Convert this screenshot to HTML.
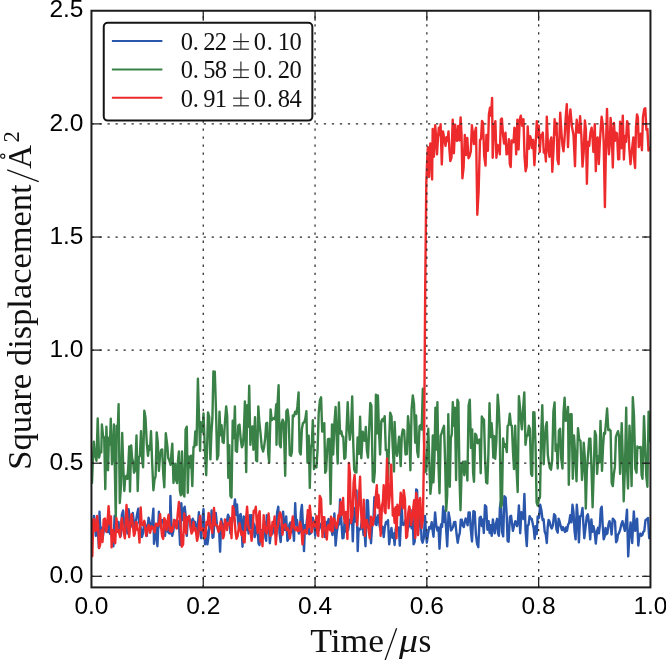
<!DOCTYPE html>
<html><head><meta charset="utf-8"><style>html,body{margin:0;padding:0;background:#fff;overflow:hidden}svg{display:block;will-change:transform}</style></head>
<body><svg width="666" height="660" viewBox="0 0 666 660">
<defs><clipPath id="ax"><rect x="91.45" y="10.75" width="559.0" height="576.65"/></clipPath></defs><rect width="666" height="660" fill="#fff"/>
<g clip-path="url(#ax)"><polyline points="92.0,528.0 93.0,524.3 94.0,515.9 94.9,521.3 95.8,535.9 97.3,520.0 98.9,548.0 99.5,511.7 100.5,533.4 101.5,527.6 102.5,539.0 103.7,530.8 104.9,519.5 106.0,529.8 107.0,532.0 108.0,532.0 109.0,522.0 110.0,533.8 111.0,530.0 112.2,538.1 113.4,546.2 114.6,515.9 115.5,528.5 116.5,532.0 117.5,524.9 118.5,522.0 119.6,530.1 120.7,535.9 121.9,514.7 123.1,510.5 124.2,523.6 125.2,528.0 126.3,522.1 127.4,533.5 128.6,509.2 129.6,516.8 130.5,527.0 131.7,524.0 132.8,512.9 133.9,523.0 135.0,530.0 136.1,520.1 137.2,513.8 138.3,508.6 139.2,522.4 140.0,525.0 141.0,529.0 142.0,537.0 143.2,532.3 144.3,522.0 145.6,525.4 146.8,536.0 147.7,527.3 148.6,517.7 149.8,523.2 151.0,529.0 152.2,521.7 153.4,508.6 154.0,543.8 154.9,536.0 155.8,525.0 157.4,546.2 158.9,511.7 159.9,520.5 161.0,528.0 162.0,520.2 163.0,520.0 164.0,520.9 165.0,536.0 166.0,525.2 167.0,522.0 167.9,531.8 168.9,532.9 169.8,533.5 170.4,495.9 171.3,524.8 172.2,535.9 173.3,531.4 174.5,520.0 175.8,521.4 177.0,528.0 178.0,521.2 179.1,526.3 180.1,545.0 181.3,503.2 182.5,520.0 183.7,509.2 184.7,506.7 185.8,516.8 186.8,535.9 187.9,517.3 189.0,520.0 190.2,519.5 191.5,530.0 192.8,518.8 194.0,522.0 195.2,521.9 196.5,532.0 197.7,527.2 198.9,512.3 200.1,530.7 201.3,538.3 202.4,519.7 203.5,509.2 205.0,544.4 206.2,530.0 207.4,544.4 208.4,537.3 209.5,522.0 210.6,528.0 211.6,510.5 212.5,537.8 213.4,537.1 214.6,517.8 215.8,512.9 216.9,524.9 218.0,530.0 219.1,530.8 220.1,551.7 221.3,519.0 222.4,525.0 223.5,532.0 224.5,523.7 225.5,524.0 226.8,521.6 228.0,514.7 229.2,517.6 230.4,533.5 231.4,524.6 232.5,520.0 233.8,508.6 235.0,499.5 236.0,515.0 237.0,504.4 238.0,520.9 239.0,528.0 239.8,515.4 240.7,514.0 241.6,525.1 242.5,546.8 243.7,516.5 244.8,518.3 246.0,530.0 247.3,521.6 248.6,533.5 249.8,515.3 250.7,527.9 251.6,515.3 252.6,532.0 253.6,523.3 254.6,537.1 255.6,533.3 256.5,525.0 257.5,527.4 258.5,543.4 259.5,545.0 261.0,530.0 262.5,535.0 263.5,524.6 264.5,522.0 265.4,537.4 266.2,540.8 266.8,515.3 267.8,517.3 268.8,524.3 269.8,543.2 271.0,531.8 272.2,534.0 273.4,523.2 274.7,532.7 276.0,535.0 277.1,512.6 278.3,506.8 279.5,532.8 280.7,542.0 281.9,523.1 283.1,511.7 284.1,524.2 285.0,530.0 286.2,516.5 287.4,540.8 288.4,539.2 289.4,524.6 290.4,522.6 292.0,532.0 293.0,527.2 294.0,540.8 295.2,503.2 296.1,524.6 297.0,520.0 297.9,528.7 298.9,533.5 299.9,531.7 300.9,512.3 301.9,505.0 302.9,524.0 304.0,551.1 305.0,525.2 306.0,528.0 307.0,519.3 308.0,514.1 309.2,534.3 310.4,533.5 311.6,531.9 312.8,517.7 314.0,522.6 315.2,535.9 316.5,517.7 317.8,527.9 319.0,530.0 320.0,526.9 321.0,524.0 322.0,522.7 323.0,532.0 324.0,530.4 325.0,537.1 325.9,531.4 326.8,522.0 327.7,524.4 328.6,519.0 329.6,523.0 330.5,530.0 331.5,529.9 332.5,535.0 333.4,529.6 334.4,513.5 335.6,545.6 336.8,532.2 338.0,525.0 339.1,524.5 340.1,499.5 341.3,520.0 342.5,538.3 343.5,537.9 344.5,522.0 345.8,531.5 347.0,530.0 348.2,530.1 349.5,520.0 350.6,523.2 351.6,505.6 352.8,541.4 354.0,508.2 355.3,521.6 356.5,490.5 357.7,551.1 358.6,528.5 359.5,530.0 360.8,528.7 362.0,520.0 363.5,535.0 364.5,531.5 365.5,546.2 366.8,500.2 367.9,500.5 369.0,525.0 370.0,524.9 371.0,543.2 372.5,520.0 373.4,521.0 374.4,497.1 375.4,524.3 376.5,525.0 377.5,517.3 378.5,515.0 379.5,525.3 380.5,530.0 381.6,526.0 382.6,527.1 383.7,537.1 384.9,526.7 386.0,522.0 387.0,523.4 388.0,520.2 389.2,544.4 390.4,534.0 391.5,528.0 392.5,537.9 393.6,533.4 394.6,545.0 395.6,529.6 396.5,525.0 397.8,530.0 398.8,527.5 399.8,545.6 400.6,528.3 401.5,498.3 402.5,524.3 403.5,525.0 404.5,523.8 405.5,520.0 407.0,532.0 408.6,525.8 409.6,526.3 410.5,510.0 411.6,528.4 412.6,515.6 413.6,544.4 414.7,541.5 416.2,489.4 417.1,490.2 418.0,535.0 419.5,513.6 420.5,514.1 421.6,539.7 422.6,542.7 423.8,538.0 425.0,516.0 425.9,531.7 426.8,542.7 428.1,533.3 429.3,527.0 430.5,528.6 431.7,522.1 432.6,530.4 433.5,536.7 435.1,512.4 436.3,525.8 437.5,530.6 438.5,527.5 439.5,548.8 441.0,524.5 442.1,526.9 443.2,506.4 444.1,522.0 445.0,511.0 446.1,528.3 447.2,546.4 448.6,512.4 449.8,519.3 451.0,530.6 452.0,529.1 453.1,526.8 454.1,522.1 455.3,521.9 456.5,533.5 457.7,542.7 458.7,536.8 459.8,533.0 460.8,519.7 461.8,519.7 462.8,525.8 463.8,527.0 464.7,522.4 465.6,518.5 466.6,520.3 467.6,525.3 468.6,512.4 469.7,512.4 470.9,530.7 472.0,541.5 473.4,511.2 474.7,511.8 475.9,534.5 477.1,543.9 478.3,547.2 479.6,517.8 480.8,516.7 481.8,526.0 482.8,519.7 483.8,533.0 485.0,505.1 486.2,506.7 487.4,529.7 488.6,521.2 489.6,533.0 490.7,525.1 491.7,535.8 492.9,519.4 493.8,526.2 494.7,533.3 495.9,523.9 497.1,518.8 498.0,533.3 498.9,535.8 499.9,507.5 500.8,501.8 502.0,531.6 503.2,536.4 504.4,496.3 505.6,497.6 506.6,513.4 507.6,540.9 508.6,541.8 509.9,516.7 511.1,515.8 512.0,523.3 512.9,530.9 514.1,526.0 515.3,521.2 516.2,522.6 517.1,526.1 518.0,520.1 518.9,505.5 520.2,533.3 521.4,512.1 522.4,517.3 523.4,518.9 524.4,493.9 525.6,531.1 526.8,546.1 527.7,525.3 528.6,524.8 529.6,516.1 530.7,518.4 531.7,518.8 532.7,523.4 533.7,528.4 534.7,538.8 535.7,526.1 536.7,534.1 537.7,516.4 539.0,517.9 540.2,504.8 541.4,510.3 542.6,520.0 543.6,519.3 544.7,531.6 545.8,534.5 546.8,543.0 547.7,527.0 548.6,520.0 549.6,521.6 550.7,526.4 551.7,528.5 552.9,525.3 554.1,514.3 555.3,515.8 556.5,529.5 557.7,532.7 558.6,518.6 559.5,521.2 560.8,526.5 562.0,530.0 563.0,527.1 564.0,529.7 565.0,532.0 566.0,527.4 567.0,530.9 568.0,525.0 569.1,522.9 570.2,515.3 571.4,522.3 572.5,504.8 573.5,512.0 574.6,531.6 575.6,539.4 576.8,504.8 577.8,517.2 578.9,542.4 580.1,516.4 581.3,515.7 582.5,507.9 583.4,524.3 584.3,538.2 585.5,528.0 586.8,516.4 587.9,514.3 589.1,524.1 590.2,539.4 591.4,519.4 592.4,531.9 593.4,526.1 594.6,531.6 595.8,543.6 597.1,530.9 598.0,527.8 598.9,533.3 599.8,526.0 600.8,508.9 601.7,506.7 602.7,525.4 603.7,539.4 604.6,536.6 605.5,528.0 606.5,534.3 607.4,533.3 608.5,524.4 609.5,521.2 610.5,524.7 611.6,534.5 612.8,518.6 614.0,520.0 615.0,521.4 616.1,542.2 617.1,540.6 618.0,534.4 618.9,533.3 620.1,529.9 621.3,524.5 622.5,521.2 623.7,526.1 624.9,530.9 626.0,521.0 627.0,509.7 628.2,556.4 629.4,535.8 630.6,522.4 632.2,543.0 633.8,511.5 635.2,530.9 636.2,523.4 637.1,518.8 638.3,545.5 639.3,536.2 640.3,533.6 641.3,535.8 642.3,535.1 643.3,531.9 644.3,530.9 645.5,520.1 646.8,519.4 648.0,518.0 649.2,538.2 650.4,530.0" fill="none" stroke="#2a57ac" stroke-width="2.4" stroke-linejoin="round" stroke-linecap="round"/><polyline points="92.0,483.0 92.9,460.0 93.8,441.7 94.9,454.4 96.5,460.8 97.7,418.5 99.1,457.6 100.2,451.6 101.3,452.3 101.9,424.5 103.0,435.7 104.2,437.9 105.3,489.1 106.4,426.7 108.0,470.3 108.9,437.6 109.9,444.6 110.8,418.8 112.0,464.2 113.0,453.7 114.0,424.5 114.9,472.5 115.8,518.8 116.7,425.9 117.7,431.9 118.6,404.3 119.8,503.0 121.0,485.5 122.2,433.0 123.2,465.3 124.3,491.0 125.3,477.0 126.4,475.8 127.4,478.8 128.3,466.6 129.2,446.4 130.0,491.5 131.2,445.4 132.1,458.1 133.1,461.7 134.0,472.7 135.2,470.1 136.5,435.5 137.7,491.0 138.8,457.5 139.9,455.5 141.0,431.2 142.1,458.7 143.1,467.3 144.3,410.6 145.5,417.8 146.8,443.6 148.0,455.8 149.0,445.9 150.0,449.7 151.0,431.2 152.2,463.8 153.4,490.3 154.5,479.7 155.6,476.4 156.7,432.4 157.8,442.4 158.9,471.0 160.0,456.1 161.1,450.0 162.2,449.4 163.2,473.3 164.3,487.3 165.8,433.3 167.4,446.7 168.2,458.0 169.3,460.2 170.5,464.8 171.4,453.6 172.3,443.6 173.5,483.0 174.4,472.4 175.3,463.6 176.2,480.4 177.1,483.0 178.0,460.4 178.9,451.5 179.9,490.8 180.8,495.2 182.0,451.5 183.2,494.0 184.4,496.4 185.6,429.5 186.8,426.7 187.8,492.7 188.8,456.5 189.8,467.3 191.1,455.6 192.3,486.1 193.5,446.7 194.4,446.8 195.3,431.5 196.5,445.0 197.9,378.7 199.0,416.3 200.1,450.9 200.7,422.1 201.6,431.9 202.6,431.4 203.5,413.4 204.8,447.7 206.2,475.2 207.1,447.6 208.0,412.4 209.2,416.8 210.4,459.4 211.4,433.3 212.4,418.2 213.4,371.5 214.8,371.7 216.1,413.6 217.1,459.4 218.3,455.3 219.5,411.8 220.6,435.3 221.6,425.3 222.6,441.9 223.7,443.0 224.9,422.7 226.2,406.4 227.2,416.0 228.3,477.7 229.3,445.3 230.4,495.8 231.5,497.6 232.7,420.8 233.8,438.2 234.9,406.4 235.8,450.9 237.0,451.8 238.3,425.7 239.5,424.5 240.7,439.1 241.9,447.3 242.9,444.9 243.9,430.4 244.9,401.5 246.2,472.1 247.2,405.2 248.2,426.8 249.2,385.8 250.4,444.8 251.6,426.9 252.8,426.4 253.4,449.7 255.0,417.3 256.1,460.4 257.1,461.2 258.3,406.4 259.4,423.0 260.5,433.0 261.8,447.3 263.1,451.5 264.1,446.8 265.2,438.2 266.2,423.3 267.2,422.8 268.2,453.3 269.2,462.4 270.6,409.4 271.7,420.2 272.9,419.1 274.0,417.9 275.1,419.3 276.2,404.5 276.5,444.8 277.6,403.0 278.6,385.2 279.6,444.4 280.7,447.3 281.7,423.0 282.7,419.7 283.7,422.1 285.2,475.8 286.4,411.2 287.5,409.5 288.6,417.9 289.8,455.0 291.0,455.8 291.9,452.0 292.8,415.5 294.0,416.2 295.1,411.8 296.3,414.0 297.4,406.4 298.6,392.4 299.6,451.9 300.7,454.5 301.9,428.8 303.0,423.1 304.1,422.5 305.3,419.0 306.4,411.2 307.5,462.6 308.7,435.6 309.8,487.9 310.8,447.6 311.8,444.2 312.8,420.3 314.0,469.1 315.2,465.8 316.4,467.4 317.6,449.1 318.7,413.2 319.9,400.4 321.1,397.3 322.2,431.6 323.2,430.6 324.3,423.3 325.2,472.7 326.1,470.9 327.1,451.2 328.0,439.1 329.3,438.8 330.6,504.0 332.0,424.5 333.2,454.5 334.4,423.3 335.6,407.0 336.6,436.3 337.7,463.6 338.9,402.5 340.1,433.5 341.3,431.2 342.3,436.3 343.3,436.7 344.3,458.8 345.4,457.7 346.6,428.6 347.7,402.1 348.8,427.7 349.8,439.7 351.0,428.7 352.2,396.4 353.2,441.5 354.2,469.7 355.2,472.1 356.4,472.6 357.6,437.5 358.9,454.0 360.1,416.7 361.3,458.2 362.8,431.8 363.8,440.0 364.8,440.7 365.8,427.0 366.9,450.4 368.0,457.6 369.1,431.2 370.3,403.0 371.4,405.4 372.8,481.2 373.8,482.3 374.8,471.8 375.9,394.7 376.9,433.5 377.9,395.5 379.0,431.5 380.1,454.5 381.3,421.3 382.5,419.1 383.6,421.2 384.7,416.1 385.8,450.1 386.9,449.9 388.0,480.0 389.1,441.7 390.2,412.7 391.5,416.3 392.7,446.5 394.0,471.5 394.6,421.9 395.8,448.0 397.0,455.8 398.1,447.1 399.1,436.7 400.7,466.1 401.8,435.5 402.8,429.4 404.1,430.2 405.5,454.5 406.8,454.2 408.0,416.3 409.2,429.5 410.4,470.3 411.6,408.8 412.8,395.5 414.0,403.9 415.2,442.7 416.1,415.5 417.2,451.3 418.3,457.0 419.5,426.4 420.6,425.1 421.7,429.5 422.8,388.8 423.9,437.1 425.1,472.1 426.2,471.5 427.2,452.6 428.3,428.8 429.4,464.4 430.4,493.9 431.6,481.1 432.8,435.5 433.4,482.4 434.4,461.2 435.4,407.8 436.4,449.6 437.4,402.1 438.4,462.4 439.5,493.3 440.7,435.7 441.9,432.4 442.9,428.8 444.0,425.8 445.1,460.4 446.2,510.9 447.2,494.9 448.3,414.2 449.8,486.7 450.8,438.2 451.8,434.1 452.8,402.1 453.9,425.7 454.9,407.6 456.1,480.0 457.4,399.7 458.4,402.1 459.5,477.3 460.5,510.3 461.8,464.8 463.0,461.7 464.3,475.2 465.3,461.4 466.4,463.5 467.4,480.6 468.6,405.4 469.8,399.7 471.0,447.9 472.2,429.4 473.1,472.7 474.0,481.8 475.2,433.6 476.3,435.1 477.4,443.2 478.5,440.3 479.6,439.4 480.7,473.3 481.8,416.5 482.9,418.5 484.0,419.7 485.1,459.4 486.2,482.4 487.3,483.4 488.4,453.9 489.5,403.3 490.6,437.1 491.6,423.3 492.5,436.3 493.3,457.6 494.2,436.3 495.2,458.8 496.4,440.4 497.7,394.8 498.7,407.4 499.7,429.4 500.8,507.2 501.9,504.8 503.1,438.5 504.3,446.9 505.6,444.2 506.8,452.1 507.6,425.8 508.7,424.8 509.8,413.6 510.9,425.0 511.9,425.9 513.0,452.1 514.0,469.1 515.2,425.8 516.5,468.6 517.7,492.1 518.9,396.1 519.9,406.6 520.9,419.7 521.9,429.4 523.1,408.8 524.3,392.4 525.5,444.8 526.6,435.6 527.7,435.7 528.8,425.8 529.9,429.2 531.1,473.9 532.2,475.8 533.3,412.3 534.4,412.4 535.5,444.0 536.6,502.3 537.7,505.5 538.9,499.6 540.0,497.0 541.1,436.4 542.3,405.2 543.7,464.2 544.7,441.5 545.8,426.6 546.8,422.1 547.8,454.7 548.8,462.0 549.8,467.9 551.0,469.7 552.2,460.0 553.4,411.3 554.6,402.5 555.6,450.9 556.7,444.6 557.7,468.5 558.9,430.7 560.1,428.8 561.3,459.2 562.5,468.5 563.5,413.1 564.6,397.6 565.7,420.9 566.9,418.4 568.0,407.0 568.8,484.8 570.4,414.2 571.6,414.2 572.8,478.8 574.0,435.5 575.2,454.7 576.5,481.2 578.0,428.2 579.2,439.3 580.5,440.9 582.0,480.0 582.9,468.7 583.7,442.7 584.8,456.8 585.8,508.5 586.9,469.3 588.1,454.4 589.2,438.6 590.4,438.8 591.5,468.4 592.6,507.3 593.8,469.1 594.9,431.2 596.0,435.3 597.1,473.9 598.2,456.2 599.4,462.6 600.5,420.9 602.0,470.9 603.0,447.3 604.0,433.0 605.0,433.7 606.1,421.3 607.1,408.5 608.3,430.1 609.5,429.4 610.6,430.8 611.7,482.8 612.8,486.1 613.8,474.3 614.9,466.9 615.9,436.9 617.0,433.7 618.0,431.2 619.0,435.9 620.1,473.9 621.7,423.3 622.7,455.9 623.7,501.2 625.0,465.4 626.2,407.8 627.1,468.8 628.0,488.5 629.5,425.8 630.5,448.5 631.6,486.1 632.8,397.3 634.0,415.9 635.3,468.7 636.5,472.7 637.4,446.5 638.3,448.0 639.5,447.2 640.7,447.0 641.6,474.9 642.5,478.8 644.0,416.1 645.1,444.9 646.3,476.3 647.4,486.7 648.6,411.8 649.5,441.2 650.4,440.0" fill="none" stroke="#3a8147" stroke-width="2.4" stroke-linejoin="round" stroke-linecap="round"/><polyline points="92.3,556.0 93.2,519.9 94.0,519.0 95.2,531.0 96.2,530.3 97.1,515.9 98.1,525.3 99.1,548.1 100.1,545.0 101.5,530.0 102.5,542.0 103.7,519.5 105.0,518.6 106.2,531.7 107.4,523.6 108.6,506.2 109.8,524.2 111.0,516.5 111.6,547.4 113.0,530.0 114.0,540.8 115.2,543.2 116.5,518.3 117.5,531.9 118.5,530.0 120.1,537.1 121.0,524.2 121.9,518.3 122.9,527.9 123.9,533.5 124.9,538.3 126.5,505.0 127.8,523.4 129.2,537.1 130.4,521.6 131.6,514.1 132.8,524.6 134.0,535.9 134.9,533.4 135.8,522.0 136.7,522.4 137.5,530.0 138.5,529.4 139.5,542.6 140.7,507.4 141.6,523.8 142.5,525.0 143.4,524.4 144.3,520.8 145.2,528.4 146.2,535.9 147.4,529.2 148.6,525.0 150.0,532.9 151.6,526.2 152.6,528.6 153.6,527.6 154.6,532.3 155.8,523.7 157.0,524.0 158.0,525.8 159.1,523.1 160.1,514.1 161.1,526.7 162.1,536.2 163.1,538.9 164.3,518.3 165.4,521.1 166.5,530.0 167.6,520.9 168.6,514.7 169.8,531.0 170.7,527.2 171.6,531.7 172.8,529.2 174.0,520.0 175.2,522.5 176.5,528.6 177.7,514.0 178.9,502.0 180.5,525.0 181.8,546.8 183.1,544.4 184.3,513.5 185.2,527.4 186.2,533.5 187.2,517.3 188.2,518.5 189.2,515.9 190.4,527.0 191.6,533.5 192.6,531.3 193.5,522.0 194.5,530.3 195.5,528.0 197.1,540.8 198.1,536.2 199.0,525.0 200.1,515.9 201.1,530.2 202.0,530.0 203.2,528.5 204.3,538.3 205.4,536.4 206.5,522.0 207.6,524.9 208.6,512.9 209.6,516.3 210.5,528.0 211.3,526.5 212.2,532.9 213.1,520.2 214.0,508.0 215.2,525.2 216.5,525.0 217.5,526.3 218.5,532.0 219.6,529.9 220.7,521.4 221.9,527.1 223.1,538.3 224.0,535.2 224.9,519.5 225.9,523.7 227.0,530.0 228.1,522.9 229.3,524.4 230.4,518.3 231.5,538.3 232.7,506.2 233.8,509.2 234.7,519.3 235.5,532.0 236.5,538.9 237.5,536.5 238.5,530.0 239.5,523.2 240.5,529.4 241.5,535.0 242.6,531.4 243.7,542.0 244.6,542.3 245.5,525.0 247.1,506.8 248.3,525.9 249.5,530.0 250.6,531.8 251.6,540.8 252.7,527.4 253.7,510.7 254.8,512.2 255.8,506.8 256.8,523.4 257.7,532.9 258.7,515.3 259.7,511.1 260.6,541.6 261.6,531.2 262.5,546.2 263.7,515.3 264.7,524.2 265.8,531.5 266.8,533.5 267.7,525.8 268.6,513.5 269.5,523.8 270.4,535.9 271.4,534.9 272.5,522.0 273.6,525.9 274.6,516.5 275.8,544.4 276.9,530.3 278.0,525.0 279.1,516.3 280.1,512.3 281.3,516.4 282.5,534.7 283.4,525.8 284.3,525.0 285.4,524.3 286.5,530.0 287.6,528.1 288.7,530.7 289.8,538.3 290.8,532.5 291.8,523.8 292.8,516.5 294.1,527.9 295.5,530.0 296.6,527.2 297.7,531.1 298.9,530.9 300.1,522.0 301.3,527.3 302.5,544.4 303.5,533.6 304.5,530.0 305.6,531.2 306.8,533.5 307.8,510.3 308.8,527.3 309.8,505.6 310.7,515.1 311.6,532.3 312.8,525.6 314.0,522.0 315.2,526.5 316.5,515.9 317.4,533.3 318.3,535.9 319.8,495.9 321.1,499.0 322.5,537.1 323.4,517.1 324.3,517.1 325.6,531.5 326.8,539.5 327.7,527.4 328.6,525.0 330.0,530.0 331.0,516.8 331.9,531.4 332.8,531.0 333.6,518.3 334.5,520.0 335.5,523.6 336.5,528.0 337.5,523.3 338.5,515.0 339.6,516.5 340.7,502.3 341.9,514.7 343.1,498.0 344.0,517.8 344.9,522.9 346.0,512.0 347.4,538.9 348.9,462.9 349.9,473.5 351.0,522.9 352.5,515.0 353.6,482.6 354.6,475.0 355.9,502.6 357.1,525.3 358.5,505.0 360.1,476.8 361.0,508.7 361.9,527.7 362.8,525.0 363.7,499.8 365.0,535.9 365.9,520.4 366.8,520.0 368.3,528.0 369.8,538.3 370.9,516.8 371.9,518.8 372.8,525.3 373.6,520.0 374.5,515.0 375.6,498.3 376.8,485.3 377.6,507.7 378.5,495.0 379.6,508.2 380.7,535.9 382.0,505.0 382.9,501.7 383.7,485.3 384.6,511.5 385.5,513.2 387.0,458.6 388.6,508.3 389.8,495.0 391.2,464.7 392.8,515.6 393.7,508.9 394.6,522.9 395.6,507.2 396.5,538.3 397.4,504.7 399.0,515.0 399.9,507.4 400.7,492.6 402.0,500.0 402.9,508.2 403.7,490.2 404.9,498.6 406.2,538.0 407.2,536.3 408.2,513.5 409.2,506.4 410.1,510.0 411.0,525.0 412.5,515.0 414.1,500.3 415.3,538.0 416.2,493.0 417.1,499.0 418.0,535.0 419.1,501.2 420.2,498.0 421.6,528.0 422.9,520.0 424.1,447.0 425.2,290.0 426.3,183.0 427.3,157.0 427.9,147.1 429.1,177.0 430.3,143.5 431.2,150.8 432.1,179.5 432.7,129.0 433.9,156.8 435.2,125.3 436.1,136.6 437.0,154.4 437.9,139.3 438.8,127.7 439.7,135.0 440.6,124.1 441.8,164.5 443.0,131.4 444.2,138.3 445.5,145.9 446.5,137.2 447.5,141.0 448.5,131.4 449.4,149.4 450.3,161.1 451.5,157.6 452.7,119.8 453.9,153.2 455.2,124.7 456.1,138.9 457.0,141.0 458.2,125.9 459.4,140.5 460.6,117.4 461.5,133.7 462.4,178.3 463.6,167.4 464.8,135.0 466.1,155.0 467.3,138.0 468.5,158.3 469.6,156.2 470.8,151.5 471.9,125.3 472.9,133.6 473.9,144.1 474.9,132.5 476.0,127.7 477.3,214.7 478.6,192.0 480.0,139.8 481.0,139.3 482.0,121.0 483.0,122.9 484.2,155.8 485.5,165.6 486.4,135.0 487.9,150.8 488.9,114.4 490.0,107.6 491.1,115.9 492.1,98.0 492.7,157.7 494.0,128.5 495.4,121.1 496.4,157.7 497.6,144.9 498.8,147.1 499.8,154.4 500.9,119.2 501.9,118.6 503.0,134.7 504.1,143.5 505.5,132.6 506.5,154.4 507.7,153.6 508.9,139.2 509.8,163.6 510.7,167.0 511.6,140.4 512.5,141.1 513.5,142.3 514.4,127.7 515.3,129.2 516.2,154.4 517.4,119.8 518.6,149.5 519.7,120.0 520.8,115.6 522.2,125.9 523.5,119.2 524.5,155.8 525.6,171.2 526.7,166.4 527.7,126.5 528.9,148.9 530.1,136.2 531.0,138.9 532.0,148.0 533.2,140.0 534.4,165.3 535.6,144.7 536.8,121.1 537.8,137.1 538.8,125.8 539.8,152.0 540.8,135.2 541.8,135.3 542.8,132.6 543.8,152.6 544.9,149.6 545.9,161.5 546.8,116.8 548.1,148.6 549.5,156.8 550.4,140.8 551.3,137.4 552.3,171.8 553.5,150.6 554.6,119.2 555.5,134.5 556.5,122.9 557.5,159.7 558.6,164.2 560.2,112.6 561.6,135.0 562.5,145.4 563.5,151.4 564.6,137.7 565.7,117.9 566.8,104.1 568.0,147.1 569.2,120.5 570.4,109.5 571.9,126.5 573.5,135.0 575.0,166.3 575.9,132.8 576.7,119.8 578.2,132.6 579.2,132.6 580.1,116.2 581.3,134.6 582.5,166.6 583.7,151.8 584.9,120.5 585.9,129.5 586.9,183.8 588.0,141.9 589.2,145.9 590.4,133.1 591.6,127.7 592.5,136.9 593.4,152.0 594.8,124.1 595.8,171.1 596.7,139.7 597.6,137.4 598.8,164.1 599.7,145.4 600.7,128.7 601.6,116.8 602.7,123.6 603.7,142.3 604.9,207.1 606.0,143.8 607.0,108.9 608.0,140.4 608.9,154.4 609.8,144.0 610.6,118.0 611.7,131.1 612.8,167.5 614.0,122.9 614.9,140.8 615.8,132.6 617.0,133.2 618.2,159.4 619.2,159.1 620.1,121.7 621.3,148.3 622.8,115.6 623.9,159.5 625.0,136.0 626.0,141.9 627.1,121.1 628.2,124.4 629.2,147.1 630.5,164.2 631.5,154.0 632.4,145.8 633.4,137.4 634.2,159.4 635.1,168.0 636.0,127.1 637.0,114.4 637.9,117.6 638.8,147.1 639.8,141.8 640.7,133.8 641.9,150.2 643.0,116.9 644.2,109.2 645.3,108.3 646.4,129.9 647.4,128.9 648.5,150.6 649.5,148.4 650.4,148.0" fill="none" stroke="#ed2b2d" stroke-width="2.4" stroke-linejoin="round" stroke-linecap="round"/></g>
<g stroke="#2a2a2a" stroke-width="1.25" stroke-dasharray="2.3 5.712" fill="none"><line x1="203.25" y1="587.40" x2="203.25" y2="10.75"/><line x1="315.05" y1="587.40" x2="315.05" y2="10.75"/><line x1="426.85" y1="587.40" x2="426.85" y2="10.75"/><line x1="538.65" y1="587.40" x2="538.65" y2="10.75"/><line x1="91.45" y1="576.30" x2="650.45" y2="576.30"/><line x1="91.45" y1="463.20" x2="650.45" y2="463.20"/><line x1="91.45" y1="350.10" x2="650.45" y2="350.10"/><line x1="91.45" y1="237.00" x2="650.45" y2="237.00"/><line x1="91.45" y1="123.90" x2="650.45" y2="123.90"/></g>
<g stroke="#1e1e1e" stroke-width="1.25"><line x1="203.25" y1="10.75" x2="203.25" y2="20.75"/><line x1="203.25" y1="587.40" x2="203.25" y2="577.40"/><line x1="315.05" y1="10.75" x2="315.05" y2="20.75"/><line x1="315.05" y1="587.40" x2="315.05" y2="577.40"/><line x1="426.85" y1="10.75" x2="426.85" y2="20.75"/><line x1="426.85" y1="587.40" x2="426.85" y2="577.40"/><line x1="538.65" y1="10.75" x2="538.65" y2="20.75"/><line x1="538.65" y1="587.40" x2="538.65" y2="577.40"/><line x1="91.45" y1="576.30" x2="101.45" y2="576.30"/><line x1="650.45" y1="576.30" x2="642.10" y2="576.30"/><line x1="91.45" y1="463.20" x2="101.45" y2="463.20"/><line x1="650.45" y1="463.20" x2="642.10" y2="463.20"/><line x1="91.45" y1="350.10" x2="101.45" y2="350.10"/><line x1="650.45" y1="350.10" x2="642.10" y2="350.10"/><line x1="91.45" y1="237.00" x2="101.45" y2="237.00"/><line x1="650.45" y1="237.00" x2="642.10" y2="237.00"/><line x1="91.45" y1="123.90" x2="101.45" y2="123.90"/><line x1="650.45" y1="123.90" x2="642.10" y2="123.90"/></g>
<rect x="91.45" y="10.75" width="559.00" height="576.65" fill="none" stroke="#1c1c1c" stroke-width="2"/>
<rect x="103.75" y="22.8" width="208.6" height="97.8" rx="4" ry="4" fill="#fff" stroke="#141414" stroke-width="2"/><line x1="111.9" y1="41.10" x2="162.4" y2="41.10" stroke="#2a57ac" stroke-width="2"/><text font-family="Liberation Serif, serif" font-size="24.5" fill="#111" x="186.80" y="50.00" text-anchor="middle">0</text><text font-family="Liberation Serif, serif" font-size="24.5" fill="#111" x="195.90" y="50.00" text-anchor="middle">.</text><text font-family="Liberation Serif, serif" font-size="24.5" fill="#111" x="209.35" y="50.00" text-anchor="middle">2</text><text font-family="Liberation Serif, serif" font-size="24.5" fill="#111" x="220.90" y="50.00" text-anchor="middle">2</text><text font-family="Liberation Serif, serif" font-size="24.5" fill="#111" x="259.80" y="50.00" text-anchor="middle">0</text><text font-family="Liberation Serif, serif" font-size="24.5" fill="#111" x="269.70" y="50.00" text-anchor="middle">.</text><text font-family="Liberation Serif, serif" font-size="24.5" fill="#111" x="283.85" y="50.00" text-anchor="middle">1</text><text font-family="Liberation Serif, serif" font-size="24.5" fill="#111" x="295.60" y="50.00" text-anchor="middle">0</text><g stroke="#222" stroke-width="1.15"><line x1="233.1" y1="41.56" x2="248.9" y2="41.56"/><line x1="233.1" y1="49.20" x2="248.9" y2="49.20"/><line x1="240.9" y1="33.30" x2="240.9" y2="49.20"/></g><line x1="111.9" y1="69.40" x2="162.4" y2="69.40" stroke="#3a8147" stroke-width="2"/><text font-family="Liberation Serif, serif" font-size="24.5" fill="#111" x="186.80" y="78.30" text-anchor="middle">0</text><text font-family="Liberation Serif, serif" font-size="24.5" fill="#111" x="195.90" y="78.30" text-anchor="middle">.</text><text font-family="Liberation Serif, serif" font-size="24.5" fill="#111" x="209.35" y="78.30" text-anchor="middle">5</text><text font-family="Liberation Serif, serif" font-size="24.5" fill="#111" x="220.90" y="78.30" text-anchor="middle">8</text><text font-family="Liberation Serif, serif" font-size="24.5" fill="#111" x="259.80" y="78.30" text-anchor="middle">0</text><text font-family="Liberation Serif, serif" font-size="24.5" fill="#111" x="269.70" y="78.30" text-anchor="middle">.</text><text font-family="Liberation Serif, serif" font-size="24.5" fill="#111" x="283.85" y="78.30" text-anchor="middle">2</text><text font-family="Liberation Serif, serif" font-size="24.5" fill="#111" x="295.60" y="78.30" text-anchor="middle">0</text><g stroke="#222" stroke-width="1.15"><line x1="233.1" y1="69.86" x2="248.9" y2="69.86"/><line x1="233.1" y1="77.50" x2="248.9" y2="77.50"/><line x1="240.9" y1="61.60" x2="240.9" y2="77.50"/></g><line x1="111.9" y1="97.70" x2="162.4" y2="97.70" stroke="#ed2b2d" stroke-width="2"/><text font-family="Liberation Serif, serif" font-size="24.5" fill="#111" x="186.80" y="106.60" text-anchor="middle">0</text><text font-family="Liberation Serif, serif" font-size="24.5" fill="#111" x="195.90" y="106.60" text-anchor="middle">.</text><text font-family="Liberation Serif, serif" font-size="24.5" fill="#111" x="209.35" y="106.60" text-anchor="middle">9</text><text font-family="Liberation Serif, serif" font-size="24.5" fill="#111" x="220.90" y="106.60" text-anchor="middle">1</text><text font-family="Liberation Serif, serif" font-size="24.5" fill="#111" x="259.80" y="106.60" text-anchor="middle">0</text><text font-family="Liberation Serif, serif" font-size="24.5" fill="#111" x="269.70" y="106.60" text-anchor="middle">.</text><text font-family="Liberation Serif, serif" font-size="24.5" fill="#111" x="283.85" y="106.60" text-anchor="middle">8</text><text font-family="Liberation Serif, serif" font-size="24.5" fill="#111" x="295.60" y="106.60" text-anchor="middle">4</text><g stroke="#222" stroke-width="1.15"><line x1="233.1" y1="98.16" x2="248.9" y2="98.16"/><line x1="233.1" y1="105.80" x2="248.9" y2="105.80"/><line x1="240.9" y1="89.90" x2="240.9" y2="105.80"/></g>
<g font-family="Liberation Sans, sans-serif" font-size="24.5" fill="#000"><text x="83.5" y="582.90" text-anchor="end">0.0</text><text x="83.5" y="469.80" text-anchor="end">0.5</text><text x="83.5" y="356.70" text-anchor="end">1.0</text><text x="83.5" y="243.60" text-anchor="end">1.5</text><text x="83.5" y="130.50" text-anchor="end">2.0</text><text x="83.5" y="17.40" text-anchor="end">2.5</text><text x="91.45" y="613.6" text-anchor="middle">0.0</text><text x="203.25" y="613.6" text-anchor="middle">0.2</text><text x="315.05" y="613.6" text-anchor="middle">0.4</text><text x="426.85" y="613.6" text-anchor="middle">0.6</text><text x="538.65" y="613.6" text-anchor="middle">0.8</text><text x="650.45" y="613.6" text-anchor="middle">1.0</text></g>
<g font-family="Liberation Serif, serif" fill="#111"><text x="310.2" y="652" font-size="33" textLength="73.8" lengthAdjust="spacingAndGlyphs">Time</text><line x1="385.0" y1="660.5" x2="396.6" y2="628.3" stroke="#111" stroke-width="1.3"/><text x="399.0" y="651.8" font-size="33" font-style="italic" textLength="19" lengthAdjust="spacingAndGlyphs">μ</text><text x="418.6" y="652" font-size="33">s</text></g>
<g font-family="Liberation Serif, serif" fill="#111"><g transform="rotate(-90)"><text x="-469.8" y="31" font-size="33" textLength="96" lengthAdjust="spacingAndGlyphs">Square</text><text x="-366" y="31" font-size="33" textLength="181.5" lengthAdjust="spacingAndGlyphs">displacement</text><text x="-168.8" y="31" font-size="33">A</text><text x="-142.5" y="18.6" font-size="22.5">2</text></g><line x1="7.2" y1="169.8" x2="38.7" y2="181.6" stroke="#111" stroke-width="1.3"/><circle cx="2.7" cy="156.2" r="2.05" fill="none" stroke="#111" stroke-width="1.15"/></g>
</svg></body></html>
